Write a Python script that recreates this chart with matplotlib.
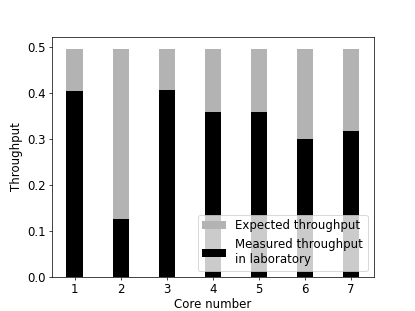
import matplotlib
matplotlib.use("Agg")
import matplotlib.pyplot as plt
import numpy as np

# datos
cores = [1, 2, 3, 4, 5, 6, 7]
expected = [0.497, 0.497, 0.497, 0.497, 0.497, 0.497, 0.497]
measured = [0.405, 0.125, 0.408, 0.360, 0.360, 0.300, 0.317]

plt.rcParams["font.size"] = 13

bar_width = 0.35
x = np.array(cores)

fig, ax = plt.subplots(figsize=(415 / 65, 311 / 65), dpi=65)

ax.bar(x, expected, bar_width, color="0.7", label="Expected throughput")
ax.bar(x, measured, bar_width, color="black", label="Measured throughput\nin laboratory")

ax.set_xlabel("Core number", labelpad=2)
ax.set_ylabel("Throughput")
ax.set_xticks(x)
ax.legend(loc="lower right")

plt.savefig("out.png", dpi=65)
